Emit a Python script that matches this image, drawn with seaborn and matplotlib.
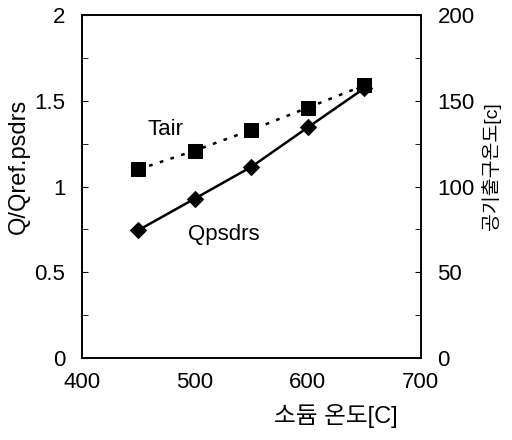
import matplotlib
matplotlib.use("Agg")
import matplotlib.pyplot as plt
import seaborn as sns
import pandas as pd
from matplotlib.ticker import MultipleLocator

temps = [450, 500, 550, 600, 650]
q_ratio = [0.746, 0.93, 1.115, 1.345, 1.573]
t_air = [110, 121, 133, 146, 159]

sns.set_style("white")
plt.rcParams['font.family'] = ['Liberation Sans', 'Noto Sans CJK KR', 'DejaVu Sans']
plt.rcParams.update({"text.color": "black", "axes.labelcolor": "black",
                     "xtick.color": "black", "ytick.color": "black"})

df_q = pd.DataFrame({"temp": temps, "q": q_ratio})
df_t = pd.DataFrame({"temp": temps, "t": t_air})

fig = plt.figure(figsize=(5.12, 4.4), dpi=100)
ax = fig.add_axes([0.160, 0.186, 0.662, 0.780])
ax2 = ax.twinx()

sns.lineplot(data=df_q, x="temp", y="q", ax=ax, color="black", linewidth=1.8,
             marker="D", markersize=8, markeredgecolor="black")
sns.lineplot(data=df_t, x="temp", y="t", ax=ax2, color="black", linewidth=1.8,
             linestyle=(0, (1.5, 3)), marker="s", markersize=10, markeredgecolor="black")

ax.set_xlim(400, 700)
ax.set_ylim(0, 2)
ax2.set_ylim(0, 200)
ax.set_xticks([400, 500, 600, 700])
ax.yaxis.set_major_locator(MultipleLocator(0.5))
ax.yaxis.set_minor_locator(MultipleLocator(0.25))
ax2.yaxis.set_major_locator(MultipleLocator(50))
ax2.yaxis.set_minor_locator(MultipleLocator(25))
ax.set_yticks([0, 0.5, 1, 1.5, 2])
ax.set_yticklabels(["0", "0.5", "1", "1.5", "2"])

ax.tick_params(axis='y', which='both', direction='in', length=4, labelsize=16, pad=12,
               colors="black")
ax.tick_params(axis='x', length=0, labelsize=16, pad=10, colors="black")
ax2.tick_params(axis='y', which='both', direction='in', length=4, labelsize=16, pad=12,
                colors="black")

for a in (ax, ax2):
    for s in a.spines.values():
        s.set_color("black")
        s.set_linewidth(1.2)

ax.set_ylabel("Q/Qref.psdrs", fontsize=17, color="black")
ax2.set_ylabel("공기출구온도[c]", fontsize=14, color="black")
ax.set_xlabel("소듐 온도[C]", fontsize=17, color="black")
ax.xaxis.set_label_coords(0.75, -0.135)
ax.yaxis.set_label_coords(-0.155, 0.56)
ax2.yaxis.set_label_coords(1.178, 0.56)

ax.text(474, 1.33, "Tair", fontsize=16, ha="center", va="center", color="black")
ax.text(526, 0.72, "Qpsdrs", fontsize=16, ha="center", va="center", color="black")

fig.savefig("out.png", dpi=100)
